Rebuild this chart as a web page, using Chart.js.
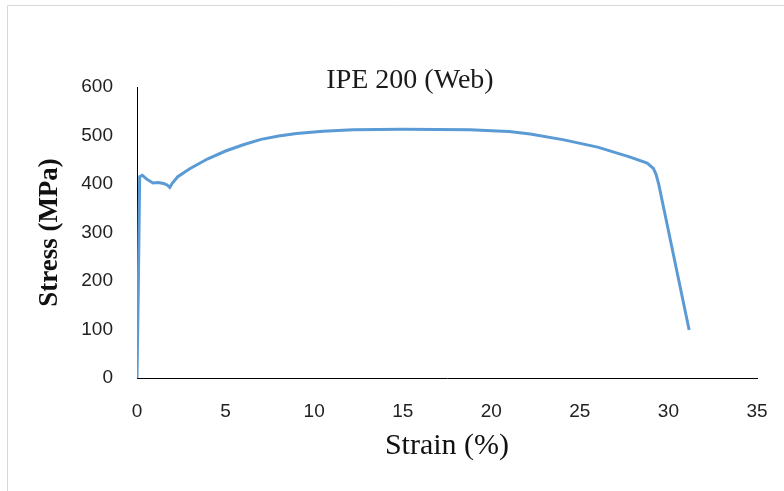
<!DOCTYPE html>
<html>
<head>
<meta charset="utf-8">
<script src="https://cdn.jsdelivr.net/npm/chart.js@4/dist/chart.umd.min.js"></script>
<style>
  html, body { margin: 0; padding: 0; background: #fff; }
  #chart-box { width: 784px; height: 491px; position: relative; }
</style>
</head>
<body>
<div id="chart-box"><canvas id="chart-stress" width="784" height="491"></canvas></div>
<script>
// Stress-strain curve, IPE 200 web coupon
const chartTitle = "IPE 200 (Web)";
const strainPct = [0, 0.08, 0.15, 0.3, 0.55, 0.9, 1.2, 1.5, 1.7, 1.85, 2.0, 2.3, 3.0, 4.0, 5.0, 6.0, 7.0, 8.0, 9.0, 10.5,
                   12.2, 15.0, 18.8, 20.0, 21.0, 22.2, 24.1, 26.0, 27.8, 28.8, 29.15, 29.3, 29.45, 31.17];
const stressMPa = [0, 200, 415, 418, 410, 402, 403, 401, 398, 393, 402, 415, 432, 452, 468, 481, 492, 499, 504, 509,
                   512, 513, 512, 510, 508, 503, 491, 476, 456, 443, 432, 420, 400, 99];
const xTicks = [0, 5, 10, 15, 20, 25, 30, 35];
const yTicks = [0, 100, 200, 300, 400, 500, 600];

const points = strainPct.map((x, i) => ({ x: x, y: stressMPa[i] }));

// light frame + title drawn straight on the canvas
const frameAndTitle = {
    id: 'frameAndTitle',
    beforeDraw(chart) {
        const c = chart.ctx;
        c.save();
        c.fillStyle = '#fff';
        c.fillRect(0, 0, chart.width, chart.height);
        c.strokeStyle = '#d9d9d9';
        c.lineWidth = 1;
        c.beginPath();
        c.moveTo(7.5, chart.height);
        c.lineTo(7.5, 5.5);
        c.lineTo(chart.width, 5.5);
        c.stroke();
        c.restore();
    },
    afterDraw(chart) {
        const c = chart.ctx;
        c.save();
        c.font = '28px "Liberation Serif"';
        c.fillStyle = '#1a1a1a';
        c.textAlign = 'center';
        c.textBaseline = 'middle';
        c.fillText(chartTitle, 410, 81);
        c.restore();
    }
};

const tickFont = { family: '"Liberation Sans"', size: 19 };

new Chart(document.getElementById('chart-stress'), {
    type: 'scatter',
    data: {
        datasets: [{
            data: points,
            showLine: true,
            borderColor: '#5b9bd5',
            borderWidth: 3,
            pointRadius: 0,
            tension: 0
        }]
    },
    options: {
        responsive: false,
        animation: false,
        layout: { padding: { top: 87, right: 27, bottom: 0, left: 0 } },
        plugins: { legend: { display: false }, tooltip: { enabled: false }, title: { display: false } },
        scales: {
            x: {
                type: 'linear',
                min: 0, max: 35,
                afterBuildTicks: (s) => { s.ticks = xTicks.map(v => ({ value: v })); },
                afterFit: (s) => { s.height = 113; },
                // invisible tick length pushes labels down without widening the side overhang
                grid: { display: false, drawTicks: true, tickLength: 19 },
                border: { display: true, color: '#000', width: 1 },
                ticks: { font: tickFont, color: '#222', padding: 3, maxRotation: 0 },
                title: {
                    display: true, text: 'Strain (%)', color: '#111',
                    font: { family: '"Liberation Serif"', size: 30 },
                    padding: { top: 0, bottom: 27 }
                }
            },
            y: {
                type: 'linear',
                min: 0, max: 600,
                afterBuildTicks: (s) => { s.ticks = yTicks.map(v => ({ value: v })); },
                afterFit: (s) => { s.width = 137; },
                grid: { display: false, drawTicks: false },
                border: { display: true, color: '#000', width: 1 },
                ticks: { font: tickFont, color: '#222', padding: 24 },
                title: {
                    display: true, text: 'Stress (MPa)', color: '#111',
                    font: { family: '"Liberation Serif"', size: 27, weight: 'bold' },
                    padding: { top: 34, bottom: 0 }
                }
            }
        }
    },
    plugins: [frameAndTitle]
});
</script>
</body>
</html>
